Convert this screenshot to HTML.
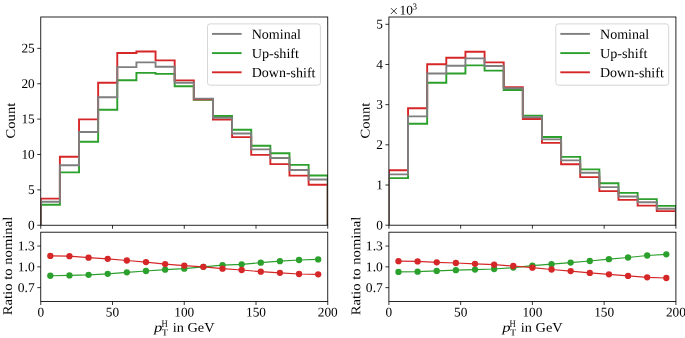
<!DOCTYPE html>
<html><head><meta charset="utf-8"><style>
html,body{margin:0;padding:0;background:#fff;width:685px;height:338px;overflow:hidden}
svg{display:block;will-change:transform}
svg text{text-rendering:geometricPrecision;font-family:"Liberation Serif", serif;font-size:13.3px;fill:#000}
</style></head><body>
<svg width="685" height="338" viewBox="0 0 685 338">
<rect width="685" height="338" fill="#fff"/>
<clipPath id="c40"><rect x="40.75" y="17" width="287" height="208.25"/></clipPath>
<g clip-path="url(#c40)">
<path d="M40.75 225.25 L40.75 204.8 L59.88 204.8 L59.88 172.4 L79.02 172.4 L79.02 141.8 L98.15 141.8 L98.15 109.8 L117.28 109.8 L117.28 80.2 L136.42 80.2 L136.42 72.9 L155.55 72.9 L155.55 73.9 L174.68 73.9 L174.68 86.2 L193.82 86.2 L193.82 99.75 L212.95 99.75 L212.95 116 L232.08 116 L232.08 129.8 L251.22 129.8 L251.22 145.8 L270.35 145.8 L270.35 153.2 L289.48 153.2 L289.48 164.9 L308.62 164.9 L308.62 175.5 L327.75 175.5 L327.75 225.25" fill="none" stroke="#2ca02c" stroke-width="1.9"/>
<path d="M40.75 225.25 L40.75 198.65 L59.88 198.65 L59.88 156.7 L79.02 156.7 L79.02 119.4 L98.15 119.4 L98.15 82.8 L117.28 82.8 L117.28 53.05 L136.42 53.05 L136.42 51.5 L155.55 51.5 L155.55 60.4 L174.68 60.4 L174.68 80.4 L193.82 80.4 L193.82 99.2 L212.95 99.2 L212.95 119.6 L232.08 119.6 L232.08 137.1 L251.22 137.1 L251.22 154.9 L270.35 154.9 L270.35 164.1 L289.48 164.1 L289.48 175.65 L308.62 175.65 L308.62 184.8 L327.75 184.8 L327.75 225.25" fill="none" stroke="#d62728" stroke-width="1.9"/>
<path d="M40.75 225.25 L40.75 201.7 L59.88 201.7 L59.88 165.3 L79.02 165.3 L79.02 132 L98.15 132 L98.15 97.2 L117.28 97.2 L117.28 67.1 L136.42 67.1 L136.42 62.4 L155.55 62.4 L155.55 66.7 L174.68 66.7 L174.68 82.7 L193.82 82.7 L193.82 98.6 L212.95 98.6 L212.95 117.7 L232.08 117.7 L232.08 133.5 L251.22 133.5 L251.22 149.4 L270.35 149.4 L270.35 158 L289.48 158 L289.48 170 L308.62 170 L308.62 179.5 L327.75 179.5 L327.75 225.25" fill="none" stroke="#7f7f7f" stroke-width="1.9"/>
</g>
<polyline points="50.32,275.75 69.45,275.45 88.58,274.85 107.72,273.8 126.85,272.3 145.98,271 165.12,269.7 184.25,268.65 203.38,266.8 222.52,265.1 241.65,264.3 260.78,262.7 279.92,261.2 299.05,260 318.18,259.4" fill="none" stroke="#2ca02c" stroke-width="1.2"/>
<circle cx="50.32" cy="275.75" r="3.15" fill="#2ca02c"/>
<circle cx="69.45" cy="275.45" r="3.15" fill="#2ca02c"/>
<circle cx="88.58" cy="274.85" r="3.15" fill="#2ca02c"/>
<circle cx="107.72" cy="273.8" r="3.15" fill="#2ca02c"/>
<circle cx="126.85" cy="272.3" r="3.15" fill="#2ca02c"/>
<circle cx="145.98" cy="271" r="3.15" fill="#2ca02c"/>
<circle cx="165.12" cy="269.7" r="3.15" fill="#2ca02c"/>
<circle cx="184.25" cy="268.65" r="3.15" fill="#2ca02c"/>
<circle cx="203.38" cy="266.8" r="3.15" fill="#2ca02c"/>
<circle cx="222.52" cy="265.1" r="3.15" fill="#2ca02c"/>
<circle cx="241.65" cy="264.3" r="3.15" fill="#2ca02c"/>
<circle cx="260.78" cy="262.7" r="3.15" fill="#2ca02c"/>
<circle cx="279.92" cy="261.2" r="3.15" fill="#2ca02c"/>
<circle cx="299.05" cy="260" r="3.15" fill="#2ca02c"/>
<circle cx="318.18" cy="259.4" r="3.15" fill="#2ca02c"/>
<polyline points="50.32,255.9 69.45,256.2 88.58,257.7 107.72,258.8 126.85,260.5 145.98,262.1 165.12,264.05 184.25,265.6 203.38,266.8 222.52,268.65 241.65,270 260.78,271.65 279.92,272.85 299.05,274 318.18,274.3" fill="none" stroke="#d62728" stroke-width="1.2"/>
<circle cx="50.32" cy="255.9" r="3.15" fill="#d62728"/>
<circle cx="69.45" cy="256.2" r="3.15" fill="#d62728"/>
<circle cx="88.58" cy="257.7" r="3.15" fill="#d62728"/>
<circle cx="107.72" cy="258.8" r="3.15" fill="#d62728"/>
<circle cx="126.85" cy="260.5" r="3.15" fill="#d62728"/>
<circle cx="145.98" cy="262.1" r="3.15" fill="#d62728"/>
<circle cx="165.12" cy="264.05" r="3.15" fill="#d62728"/>
<circle cx="184.25" cy="265.6" r="3.15" fill="#d62728"/>
<circle cx="203.38" cy="266.8" r="3.15" fill="#d62728"/>
<circle cx="222.52" cy="268.65" r="3.15" fill="#d62728"/>
<circle cx="241.65" cy="270" r="3.15" fill="#d62728"/>
<circle cx="260.78" cy="271.65" r="3.15" fill="#d62728"/>
<circle cx="279.92" cy="272.85" r="3.15" fill="#d62728"/>
<circle cx="299.05" cy="274" r="3.15" fill="#d62728"/>
<circle cx="318.18" cy="274.3" r="3.15" fill="#d62728"/>
<rect x="40.75" y="17" width="287" height="208.25" fill="none" stroke="#000" stroke-width="0.85"/>
<rect x="40.75" y="232.2" width="287" height="69.3" fill="none" stroke="#000" stroke-width="0.85"/>
<line x1="40.75" y1="225.25" x2="40.75" y2="228.75" stroke="#000" stroke-width="0.8"/>
<line x1="40.75" y1="301.5" x2="40.75" y2="305" stroke="#000" stroke-width="0.8"/>
<text x="40.75" y="316.5" text-anchor="middle" transform="rotate(0.05 40.75 316.5)">0</text>
<line x1="112.5" y1="225.25" x2="112.5" y2="228.75" stroke="#000" stroke-width="0.8"/>
<line x1="112.5" y1="301.5" x2="112.5" y2="305" stroke="#000" stroke-width="0.8"/>
<text x="112.5" y="316.5" text-anchor="middle" transform="rotate(0.05 112.5 316.5)">50</text>
<line x1="184.25" y1="225.25" x2="184.25" y2="228.75" stroke="#000" stroke-width="0.8"/>
<line x1="184.25" y1="301.5" x2="184.25" y2="305" stroke="#000" stroke-width="0.8"/>
<text x="184.25" y="316.5" text-anchor="middle" transform="rotate(0.05 184.25 316.5)">100</text>
<line x1="256" y1="225.25" x2="256" y2="228.75" stroke="#000" stroke-width="0.8"/>
<line x1="256" y1="301.5" x2="256" y2="305" stroke="#000" stroke-width="0.8"/>
<text x="256" y="316.5" text-anchor="middle" transform="rotate(0.05 256 316.5)">150</text>
<line x1="327.75" y1="225.25" x2="327.75" y2="228.75" stroke="#000" stroke-width="0.8"/>
<line x1="327.75" y1="301.5" x2="327.75" y2="305" stroke="#000" stroke-width="0.8"/>
<text x="327.75" y="316.5" text-anchor="middle" transform="rotate(0.05 327.75 316.5)">200</text>
<line x1="37.25" y1="225.25" x2="40.75" y2="225.25" stroke="#000" stroke-width="0.8"/>
<text x="34.7" y="229.45" text-anchor="end" transform="rotate(0.05 34.7 229.45)">0</text>
<line x1="37.25" y1="189.87" x2="40.75" y2="189.87" stroke="#000" stroke-width="0.8"/>
<text x="34.7" y="194.07" text-anchor="end" transform="rotate(0.05 34.7 194.07)">5</text>
<line x1="37.25" y1="154.49" x2="40.75" y2="154.49" stroke="#000" stroke-width="0.8"/>
<text x="34.7" y="158.69" text-anchor="end" transform="rotate(0.05 34.7 158.69)">10</text>
<line x1="37.25" y1="119.11" x2="40.75" y2="119.11" stroke="#000" stroke-width="0.8"/>
<text x="34.7" y="123.31" text-anchor="end" transform="rotate(0.05 34.7 123.31)">15</text>
<line x1="37.25" y1="83.73" x2="40.75" y2="83.73" stroke="#000" stroke-width="0.8"/>
<text x="34.7" y="87.93" text-anchor="end" transform="rotate(0.05 34.7 87.93)">20</text>
<line x1="37.25" y1="48.35" x2="40.75" y2="48.35" stroke="#000" stroke-width="0.8"/>
<text x="34.7" y="52.55" text-anchor="end" transform="rotate(0.05 34.7 52.55)">25</text>
<line x1="37.25" y1="287.64" x2="40.75" y2="287.64" stroke="#000" stroke-width="0.8"/>
<text x="34.7" y="291.94" text-anchor="end" textLength="16.99" lengthAdjust="spacingAndGlyphs" transform="rotate(0.05 34.7 291.94)">0.7</text>
<line x1="37.25" y1="266.85" x2="40.75" y2="266.85" stroke="#000" stroke-width="0.8"/>
<text x="34.7" y="271.15" text-anchor="end" textLength="16.99" lengthAdjust="spacingAndGlyphs" transform="rotate(0.05 34.7 271.15)">1.0</text>
<line x1="37.25" y1="246.06" x2="40.75" y2="246.06" stroke="#000" stroke-width="0.8"/>
<text x="34.7" y="250.36" text-anchor="end" textLength="16.99" lengthAdjust="spacingAndGlyphs" transform="rotate(0.05 34.7 250.36)">1.3</text>
<text transform="translate(15 120.6) rotate(-89.95)" text-anchor="middle" textLength="35.61" lengthAdjust="spacingAndGlyphs">Count</text>
<text transform="translate(12 266) rotate(-89.95)" text-anchor="middle" textLength="98.6" lengthAdjust="spacingAndGlyphs">Ratio to nominal</text>
<text x="154" y="331.7" textLength="8.3" lengthAdjust="spacingAndGlyphs" transform="rotate(0.05 154 331.7)" font-style="italic">p</text>
<text x="161.4" y="326.9" style="font-size:9.8px" textLength="6.2" lengthAdjust="spacingAndGlyphs" transform="rotate(0.05 161.4 326.9)">H</text>
<text x="161.8" y="335.5" style="font-size:9.3px" textLength="6.2" lengthAdjust="spacingAndGlyphs" transform="rotate(0.05 161.8 335.5)">T</text>
<text x="172.7" y="331.7" textLength="41.84" lengthAdjust="spacingAndGlyphs" transform="rotate(0.05 172.7 331.7)">in GeV</text>
<rect x="207.5" y="23.9" width="112.9" height="61.3" rx="2.6" fill="#fff" fill-opacity="0.8" stroke="#d6d6d6" stroke-width="1"/>
<line x1="212" y1="33.9" x2="241.6" y2="33.9" stroke="#7f7f7f" stroke-width="1.9"/>
<text x="251.7" y="38.7" style="font-size:13.8px" textLength="49.14" lengthAdjust="spacingAndGlyphs" transform="rotate(0.05 251.7 38.7)">Nominal</text>
<line x1="212" y1="53.1" x2="241.6" y2="53.1" stroke="#2ca02c" stroke-width="1.9"/>
<text x="251.7" y="57.9" style="font-size:13.8px" textLength="47.36" lengthAdjust="spacingAndGlyphs" transform="rotate(0.05 251.7 57.9)">Up-shift</text>
<line x1="212" y1="72.3" x2="241.6" y2="72.3" stroke="#d62728" stroke-width="1.9"/>
<text x="251.7" y="77.1" style="font-size:13.8px" textLength="63.8" lengthAdjust="spacingAndGlyphs" transform="rotate(0.05 251.7 77.1)">Down-shift</text>
<clipPath id="c388"><rect x="388.9" y="17" width="287" height="208.2"/></clipPath>
<g clip-path="url(#c388)">
<path d="M388.9 225.2 L388.9 178.1 L408.03 178.1 L408.03 123.8 L427.17 123.8 L427.17 82.8 L446.3 82.8 L446.3 73.5 L465.43 73.5 L465.43 65.4 L484.57 65.4 L484.57 70.6 L503.7 70.6 L503.7 90 L522.83 90 L522.83 115.65 L541.97 115.65 L541.97 137 L561.1 137 L561.1 156.9 L580.23 156.9 L580.23 169.4 L599.37 169.4 L599.37 183.2 L618.5 183.2 L618.5 192.9 L637.63 192.9 L637.63 199.1 L656.77 199.1 L656.77 205.9 L675.9 205.9 L675.9 225.2" fill="none" stroke="#2ca02c" stroke-width="1.9"/>
<path d="M388.9 225.2 L388.9 170.3 L408.03 170.3 L408.03 108.25 L427.17 108.25 L427.17 64.3 L446.3 64.3 L446.3 57.7 L465.43 57.7 L465.43 51.7 L484.57 51.7 L484.57 62.4 L503.7 62.4 L503.7 87.3 L522.83 87.3 L522.83 119 L541.97 119 L541.97 142.9 L561.1 142.9 L561.1 164.2 L580.23 164.2 L580.23 177.1 L599.37 177.1 L599.37 191.1 L618.5 191.1 L618.5 199.9 L637.63 199.9 L637.63 205.6 L656.77 205.6 L656.77 211.1 L675.9 211.1 L675.9 225.2" fill="none" stroke="#d62728" stroke-width="1.9"/>
<path d="M388.9 225.2 L388.9 174.4 L408.03 174.4 L408.03 116.4 L427.17 116.4 L427.17 73.5 L446.3 73.5 L446.3 65.7 L465.43 65.7 L465.43 58.4 L484.57 58.4 L484.57 66 L503.7 66 L503.7 88.2 L522.83 88.2 L522.83 117.25 L541.97 117.25 L541.97 139.4 L561.1 139.4 L561.1 160.4 L580.23 160.4 L580.23 172.7 L599.37 172.7 L599.37 187.1 L618.5 187.1 L618.5 196.5 L637.63 196.5 L637.63 202.3 L656.77 202.3 L656.77 208.7 L675.9 208.7 L675.9 225.2" fill="none" stroke="#7f7f7f" stroke-width="1.9"/>
</g>
<polyline points="398.47,271.9 417.6,271.7 436.73,270.9 455.87,270.2 475,269.6 494.13,269 513.27,267.6 532.4,265.6 551.53,264.2 570.67,262.6 589.8,261 608.93,259.2 628.07,257.5 647.2,255.5 666.33,254.3" fill="none" stroke="#2ca02c" stroke-width="1.2"/>
<circle cx="398.47" cy="271.9" r="3.15" fill="#2ca02c"/>
<circle cx="417.6" cy="271.7" r="3.15" fill="#2ca02c"/>
<circle cx="436.73" cy="270.9" r="3.15" fill="#2ca02c"/>
<circle cx="455.87" cy="270.2" r="3.15" fill="#2ca02c"/>
<circle cx="475" cy="269.6" r="3.15" fill="#2ca02c"/>
<circle cx="494.13" cy="269" r="3.15" fill="#2ca02c"/>
<circle cx="513.27" cy="267.6" r="3.15" fill="#2ca02c"/>
<circle cx="532.4" cy="265.6" r="3.15" fill="#2ca02c"/>
<circle cx="551.53" cy="264.2" r="3.15" fill="#2ca02c"/>
<circle cx="570.67" cy="262.6" r="3.15" fill="#2ca02c"/>
<circle cx="589.8" cy="261" r="3.15" fill="#2ca02c"/>
<circle cx="608.93" cy="259.2" r="3.15" fill="#2ca02c"/>
<circle cx="628.07" cy="257.5" r="3.15" fill="#2ca02c"/>
<circle cx="647.2" cy="255.5" r="3.15" fill="#2ca02c"/>
<circle cx="666.33" cy="254.3" r="3.15" fill="#2ca02c"/>
<polyline points="398.47,261.2 417.6,261.4 436.73,262.3 455.87,263 475,263.8 494.13,264.7 513.27,266 532.4,267.7 551.53,269.5 570.67,271.1 589.8,272.9 608.93,274.3 628.07,275.9 647.2,277.3 666.33,278" fill="none" stroke="#d62728" stroke-width="1.2"/>
<circle cx="398.47" cy="261.2" r="3.15" fill="#d62728"/>
<circle cx="417.6" cy="261.4" r="3.15" fill="#d62728"/>
<circle cx="436.73" cy="262.3" r="3.15" fill="#d62728"/>
<circle cx="455.87" cy="263" r="3.15" fill="#d62728"/>
<circle cx="475" cy="263.8" r="3.15" fill="#d62728"/>
<circle cx="494.13" cy="264.7" r="3.15" fill="#d62728"/>
<circle cx="513.27" cy="266" r="3.15" fill="#d62728"/>
<circle cx="532.4" cy="267.7" r="3.15" fill="#d62728"/>
<circle cx="551.53" cy="269.5" r="3.15" fill="#d62728"/>
<circle cx="570.67" cy="271.1" r="3.15" fill="#d62728"/>
<circle cx="589.8" cy="272.9" r="3.15" fill="#d62728"/>
<circle cx="608.93" cy="274.3" r="3.15" fill="#d62728"/>
<circle cx="628.07" cy="275.9" r="3.15" fill="#d62728"/>
<circle cx="647.2" cy="277.3" r="3.15" fill="#d62728"/>
<circle cx="666.33" cy="278" r="3.15" fill="#d62728"/>
<rect x="388.9" y="17" width="287" height="208.2" fill="none" stroke="#000" stroke-width="0.85"/>
<rect x="388.9" y="232.2" width="287" height="69.3" fill="none" stroke="#000" stroke-width="0.85"/>
<line x1="388.9" y1="225.2" x2="388.9" y2="228.7" stroke="#000" stroke-width="0.8"/>
<line x1="388.9" y1="301.5" x2="388.9" y2="305" stroke="#000" stroke-width="0.8"/>
<text x="388.9" y="316.5" text-anchor="middle" transform="rotate(0.05 388.9 316.5)">0</text>
<line x1="460.65" y1="225.2" x2="460.65" y2="228.7" stroke="#000" stroke-width="0.8"/>
<line x1="460.65" y1="301.5" x2="460.65" y2="305" stroke="#000" stroke-width="0.8"/>
<text x="460.65" y="316.5" text-anchor="middle" transform="rotate(0.05 460.65 316.5)">50</text>
<line x1="532.4" y1="225.2" x2="532.4" y2="228.7" stroke="#000" stroke-width="0.8"/>
<line x1="532.4" y1="301.5" x2="532.4" y2="305" stroke="#000" stroke-width="0.8"/>
<text x="532.4" y="316.5" text-anchor="middle" transform="rotate(0.05 532.4 316.5)">100</text>
<line x1="604.15" y1="225.2" x2="604.15" y2="228.7" stroke="#000" stroke-width="0.8"/>
<line x1="604.15" y1="301.5" x2="604.15" y2="305" stroke="#000" stroke-width="0.8"/>
<text x="604.15" y="316.5" text-anchor="middle" transform="rotate(0.05 604.15 316.5)">150</text>
<line x1="675.9" y1="225.2" x2="675.9" y2="228.7" stroke="#000" stroke-width="0.8"/>
<line x1="675.9" y1="301.5" x2="675.9" y2="305" stroke="#000" stroke-width="0.8"/>
<text x="675.9" y="316.5" text-anchor="middle" transform="rotate(0.05 675.9 316.5)">200</text>
<line x1="385.4" y1="225.2" x2="388.9" y2="225.2" stroke="#000" stroke-width="0.8"/>
<text x="382.85" y="229.4" text-anchor="end" transform="rotate(0.05 382.85 229.4)">0</text>
<line x1="385.4" y1="185.02" x2="388.9" y2="185.02" stroke="#000" stroke-width="0.8"/>
<text x="382.85" y="189.22" text-anchor="end" transform="rotate(0.05 382.85 189.22)">1</text>
<line x1="385.4" y1="144.84" x2="388.9" y2="144.84" stroke="#000" stroke-width="0.8"/>
<text x="382.85" y="149.04" text-anchor="end" transform="rotate(0.05 382.85 149.04)">2</text>
<line x1="385.4" y1="104.66" x2="388.9" y2="104.66" stroke="#000" stroke-width="0.8"/>
<text x="382.85" y="108.86" text-anchor="end" transform="rotate(0.05 382.85 108.86)">3</text>
<line x1="385.4" y1="64.48" x2="388.9" y2="64.48" stroke="#000" stroke-width="0.8"/>
<text x="382.85" y="68.68" text-anchor="end" transform="rotate(0.05 382.85 68.68)">4</text>
<line x1="385.4" y1="24.3" x2="388.9" y2="24.3" stroke="#000" stroke-width="0.8"/>
<text x="382.85" y="28.5" text-anchor="end" transform="rotate(0.05 382.85 28.5)">5</text>
<line x1="385.4" y1="287.64" x2="388.9" y2="287.64" stroke="#000" stroke-width="0.8"/>
<text x="382.85" y="291.94" text-anchor="end" textLength="16.99" lengthAdjust="spacingAndGlyphs" transform="rotate(0.05 382.85 291.94)">0.7</text>
<line x1="385.4" y1="266.85" x2="388.9" y2="266.85" stroke="#000" stroke-width="0.8"/>
<text x="382.85" y="271.15" text-anchor="end" textLength="16.99" lengthAdjust="spacingAndGlyphs" transform="rotate(0.05 382.85 271.15)">1.0</text>
<line x1="385.4" y1="246.06" x2="388.9" y2="246.06" stroke="#000" stroke-width="0.8"/>
<text x="382.85" y="250.36" text-anchor="end" textLength="16.99" lengthAdjust="spacingAndGlyphs" transform="rotate(0.05 382.85 250.36)">1.3</text>
<text transform="translate(369.6 120.6) rotate(-89.95)" text-anchor="middle" textLength="35.61" lengthAdjust="spacingAndGlyphs">Count</text>
<text transform="translate(360.2 266) rotate(-89.95)" text-anchor="middle" textLength="98.6" lengthAdjust="spacingAndGlyphs">Ratio to nominal</text>
<text x="502.15" y="331.7" textLength="8.3" lengthAdjust="spacingAndGlyphs" transform="rotate(0.05 502.15 331.7)" font-style="italic">p</text>
<text x="509.55" y="326.9" style="font-size:9.8px" textLength="6.2" lengthAdjust="spacingAndGlyphs" transform="rotate(0.05 509.55 326.9)">H</text>
<text x="509.95" y="335.5" style="font-size:9.3px" textLength="6.2" lengthAdjust="spacingAndGlyphs" transform="rotate(0.05 509.95 335.5)">T</text>
<text x="520.85" y="331.7" textLength="41.84" lengthAdjust="spacingAndGlyphs" transform="rotate(0.05 520.85 331.7)">in GeV</text>
<path d="M390.9 8.1 L396.8 14 M396.8 8.1 L390.9 14" stroke="#000" stroke-width="0.75" fill="none"/>
<text x="399.5" y="14.6" transform="rotate(0.05 399.5 14.6)">10</text>
<text x="412.6" y="9.6" style="font-size:9px" transform="rotate(0.05 412.6 9.6)">3</text>
<rect x="555.8" y="23.9" width="112.9" height="61.3" rx="2.6" fill="#fff" fill-opacity="0.8" stroke="#d6d6d6" stroke-width="1"/>
<line x1="560.3" y1="33.9" x2="589.9" y2="33.9" stroke="#7f7f7f" stroke-width="1.9"/>
<text x="600" y="38.7" style="font-size:13.8px" textLength="49.14" lengthAdjust="spacingAndGlyphs" transform="rotate(0.05 600 38.7)">Nominal</text>
<line x1="560.3" y1="53.1" x2="589.9" y2="53.1" stroke="#2ca02c" stroke-width="1.9"/>
<text x="600" y="57.9" style="font-size:13.8px" textLength="47.36" lengthAdjust="spacingAndGlyphs" transform="rotate(0.05 600 57.9)">Up-shift</text>
<line x1="560.3" y1="72.3" x2="589.9" y2="72.3" stroke="#d62728" stroke-width="1.9"/>
<text x="600" y="77.1" style="font-size:13.8px" textLength="63.8" lengthAdjust="spacingAndGlyphs" transform="rotate(0.05 600 77.1)">Down-shift</text>
</svg>
</body></html>
